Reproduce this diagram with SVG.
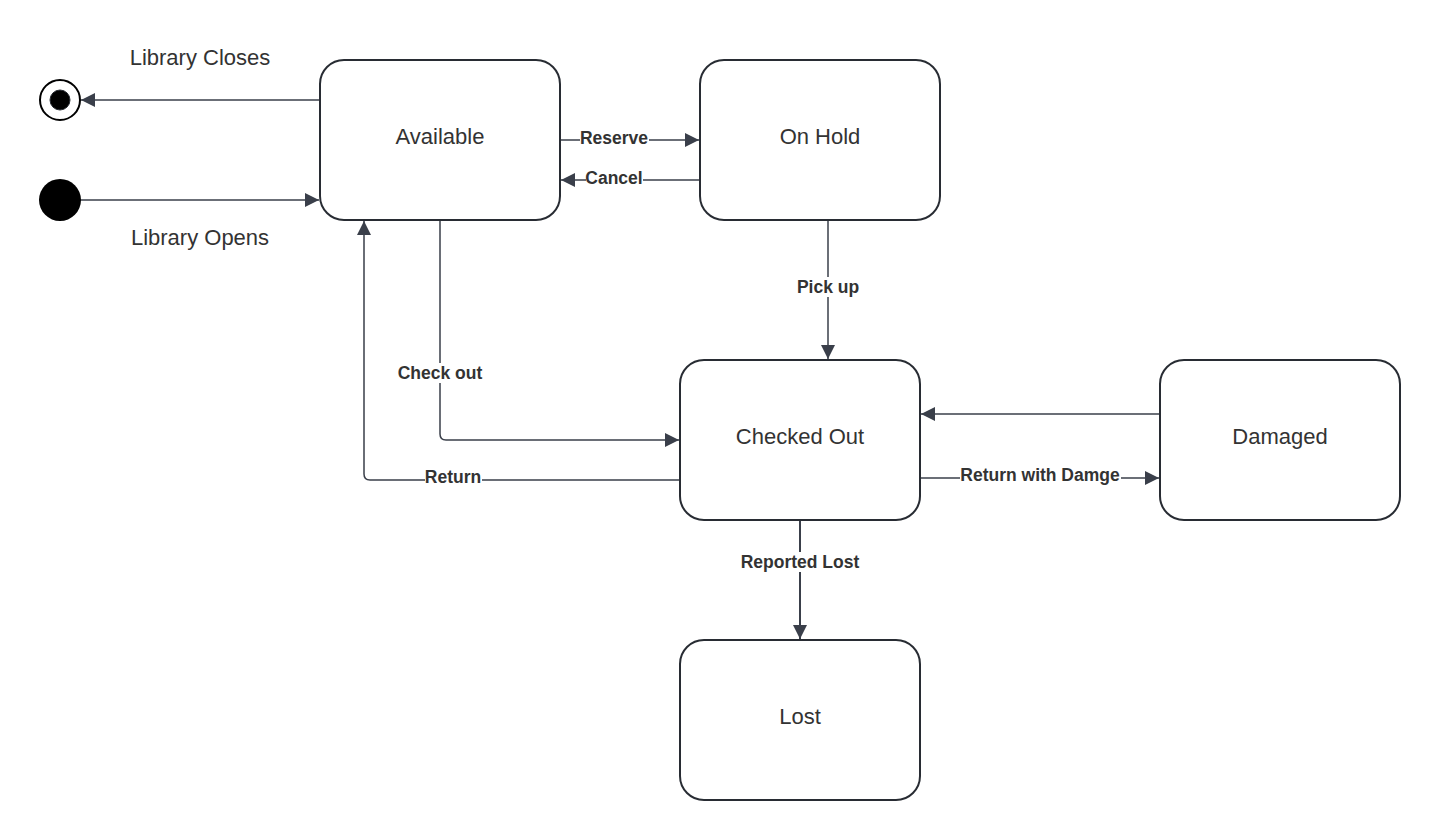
<svg xmlns="http://www.w3.org/2000/svg" width="1440" height="840" viewBox="0 0 1440 840">
  <style>
    .state { fill: #ffffff; stroke: #282c33; stroke-width: 2; }
    .state-label { font-family: "Liberation Sans", Arial, sans-serif; font-size: 22px; fill: #333333; text-anchor: middle; dominant-baseline: central; }
    .edge { fill: none; stroke: #3a3f4a; stroke-width: 1.5; }
    .edge-thick { stroke-width: 2; }
    .edge-label { font-family: "Liberation Sans", Arial, sans-serif; font-size: 17.5px; font-weight: bold; fill: #333333; text-anchor: middle; dominant-baseline: central; }
    .label-bg { fill: #ffffff; }
    .side-label { font-family: "Liberation Sans", Arial, sans-serif; font-size: 22px; fill: #333333; text-anchor: middle; dominant-baseline: central; }
  </style>
  <defs>
    <marker id="arrow" viewBox="0 0 14 14" refX="14" refY="7" markerWidth="14" markerHeight="14" markerUnits="userSpaceOnUse" orient="auto">
      <path d="M0,0 L14,7 L0,14 Z" fill="#3a3f4a"/>
    </marker>
  </defs>
  <rect width="1440" height="840" fill="#ffffff"/>

  <!-- transitions -->
  <g id="connectors">
    <path class="edge" d="M320,100 H81" marker-end="url(#arrow)"/>
    <path class="edge" d="M80,200 H319" marker-end="url(#arrow)"/>
    <path class="edge" d="M561,140 H699" marker-end="url(#arrow)"/>
    <path class="edge" d="M699,180 H561" marker-end="url(#arrow)"/>
    <path class="edge" d="M828,221 V359" marker-end="url(#arrow)"/>
    <path class="edge" d="M440,221 V434 Q440,440 446,440 H679" marker-end="url(#arrow)"/>
    <path class="edge" d="M679,480 H370 Q364,480 364,474 V221" marker-end="url(#arrow)"/>
    <path class="edge" d="M1159,414 H921" marker-end="url(#arrow)"/>
    <path class="edge" d="M921,478 H1159" marker-end="url(#arrow)"/>
    <path class="edge edge-thick" d="M800,521 V639" marker-end="url(#arrow)"/>

    <text class="side-label" x="200" y="57">Library Closes</text>
    <text class="side-label" x="200" y="237">Library Opens</text>

    <rect class="label-bg" x="580" y="129" width="69" height="20"/>
    <text class="edge-label" x="614" y="138">Reserve</text>
    <rect class="label-bg" x="586" y="169" width="57" height="20"/>
    <text class="edge-label" x="614" y="178">Cancel</text>
    <rect class="label-bg" x="796" y="277" width="64" height="20"/>
    <text class="edge-label" x="828" y="287">Pick up</text>
    <rect class="label-bg" x="396" y="363" width="88" height="20"/>
    <text class="edge-label" x="440" y="373">Check out</text>
    <rect class="label-bg" x="425" y="467" width="57" height="20"/>
    <text class="edge-label" x="453" y="477">Return</text>
    <rect class="label-bg" x="960" y="465" width="161" height="20"/>
    <text class="edge-label" x="1040" y="475">Return with Damge</text>
    <rect class="label-bg" x="740" y="552" width="120" height="20"/>
    <text class="edge-label" x="800" y="562">Reported Lost</text>
  </g>

  <g id="final-state">
    <circle cx="60" cy="100" r="20" fill="#ffffff" stroke="#000000" stroke-width="2"/>
    <circle cx="60" cy="100" r="10" fill="#000000" stroke="#282c33" stroke-width="1"/>
  </g>
  <g id="initial-state">
    <circle cx="60" cy="200" r="21" fill="#000000"/>
  </g>

  <g id="available">
    <rect class="state" x="320" y="60" width="240" height="160" rx="24"/>
    <text class="state-label" x="440" y="136">Available</text>
  </g>
  <g id="on-hold">
    <rect class="state" x="700" y="60" width="240" height="160" rx="24"/>
    <text class="state-label" x="820" y="136">On Hold</text>
  </g>
  <g id="checked-out">
    <rect class="state" x="680" y="360" width="240" height="160" rx="24"/>
    <text class="state-label" x="800" y="436">Checked Out</text>
  </g>
  <g id="damaged">
    <rect class="state" x="1160" y="360" width="240" height="160" rx="24"/>
    <text class="state-label" x="1280" y="436">Damaged</text>
  </g>
  <g id="lost">
    <rect class="state" x="680" y="640" width="240" height="160" rx="24"/>
    <text class="state-label" x="800" y="716">Lost</text>
  </g>
</svg>
